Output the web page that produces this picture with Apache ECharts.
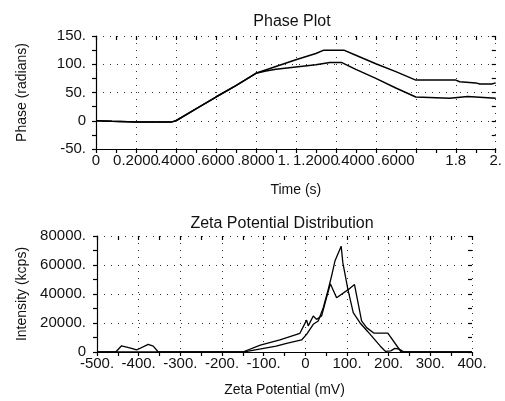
<!DOCTYPE html>
<html>
<head>
<meta charset="utf-8">
<script src="https://cdn.jsdelivr.net/npm/echarts@6/dist/echarts.min.js"></script>
<style>
html,body{margin:0;padding:0;background:#fff;}
#chart{width:505px;height:401px;}
</style>
</head>
<body>
<div id="chart"></div>
<script>
// ---- Phase plot data ----
var phaseTimeA = [0, 0.08, 0.2, 0.38, 0.4, 0.5, 0.6, 0.7, 0.8, 0.9, 1.0, 1.1, 1.14, 1.24, 1.3, 1.4, 1.5, 1.6, 1.8, 1.82, 1.9, 1.92, 1.98, 2.0];
var phaseA     = [0, -1, -2, -2, 0, 21, 42, 62, 84, 96, 108, 119, 125, 125, 116, 101, 87, 72, 72, 69, 67, 65, 65, 67];
var phaseTimeB = [0, 0.08, 0.2, 0.38, 0.4, 0.5, 0.6, 0.7, 0.8, 0.85, 0.9, 1.0, 1.1, 1.17, 1.23, 1.3, 1.4, 1.5, 1.6, 1.61, 1.77, 1.78, 1.86, 1.87, 2.0];
var phaseB     = [0, -1, -2, -2, 0, 21, 42, 62, 84, 88, 91, 95, 99, 103, 103, 91, 75, 58, 42, 40, 40, 43, 43, 40, 40];

// ---- Zeta potential data ----
var zetaMvA     = [-500, -150, -140, -100, -70, -45, -9, 3, 19, 31, 43, 55, 63, 71, 86, 90, 102, 115, 131, 150, 165, 180, 192, 205, 215, 225, 235, 245, 400];
var intensityA  = [0, 0, 500, 2500, 4000, 6000, 8300, 12200, 19100, 21400, 30600, 43200, 52400, 62700, 73000, 61600, 43400, 27100, 20200, 14000, 9000, 4000, 500, 800, 2500, 2000, 300, 0, 0];
var zetaMvB     = [-500, -455, -441, -417, -405, -377, -365, -353, -150, -108, -61, -13, 3, 7, 19, 27, 39, 50, 60, 75, 107, 118, 135, 147, 165, 198, 230, 400];
var intensityB  = [0, 0, 4300, 2500, 1400, 5300, 4100, 0, 0, 4800, 8300, 12900, 22000, 18000, 24800, 22500, 24800, 36500, 47000, 37400, 43900, 46500, 21400, 16800, 13000, 13000, 0, 0];

// ---- Tick labels (as printed in the chart) ----
var timeTicks   = [0, 0.2, 0.4, 0.6, 0.8, 1.0, 1.2, 1.4, 1.6, 1.8, 2.0];
var timeLabels  = ['0', '0.2000', '.4000', '.6000', '.8000', '1.', '1.2000', '.4000', '.6000', '1.8', '2.'];
var phaseTicks  = [-50, 0, 50, 100, 150];
var phaseLabels = ['-50.', '0', '50.', '100.', '150.'];
var zetaTicks   = [-500, -400, -300, -200, -100, 0, 100, 200, 300, 400];
var zetaLabels  = ['-500.', '-400.', '-300.', '-200.', '-100.', '0', '100.', '200.', '300.', '400.'];
var intTicks    = [0, 20000, 40000, 60000, 80000];
var intLabels   = ['0', '20000.', '40000.', '60000.', '80000.'];

function pair(xs, ys) { return xs.map(function (x, i) { return [x, ys[i]]; }); }
function findIdx(ticks, v) {
  for (var i = 0; i < ticks.length; i++) { if (Math.abs(ticks[i] - v) < 1e-6) return i; }
  return -1;
}
function lookup(ticks, labels) {
  return function (v) { var i = findIdx(ticks, v); return i < 0 ? '' : labels[i]; };
}

var FONT = 'Liberation Sans, Arial, sans-serif';
var TXT = '#111';
var LBL = 15;
var dotted = { show: true, lineStyle: { color: '#333', width: 1, type: [1, 6] } };

// styling: leftward nudge (rich-text right padding) of some time labels, as drawn in the original
var timeLabelNudge = { 5: 'n24', 6: 'n40', 7: 'n40', 8: 'n40' };
var richLbl = {
  n0:  { fontFamily: FONT, fontSize: LBL, color: TXT },
  n24: { fontFamily: FONT, fontSize: LBL, color: TXT, padding: [0, 24, 0, 0] },
  n40: { fontFamily: FONT, fontSize: LBL, color: TXT, padding: [0, 40, 0, 0] }
};

function mainAxis(gridIndex, min, max, interval, formatter, name, nameGap, margin) {
  return {
    type: 'value', gridIndex: gridIndex, min: min, max: max, interval: interval,
    name: name, nameLocation: 'middle', nameGap: nameGap,
    nameTextStyle: { fontFamily: FONT, fontSize: 14, color: TXT },
    axisLine: { show: true, onZero: false, lineStyle: { color: '#000', width: 1.2 } },
    axisTick: { show: true, length: 4, lineStyle: { color: '#000', width: 1.2 } },
    minorTick: { show: true, splitNumber: 2, length: 4, lineStyle: { color: '#000', width: 1.2 } },
    axisLabel: { show: true, interval: 0, hideOverlap: false, margin: margin, formatter: formatter,
                 fontFamily: FONT, fontSize: LBL, color: TXT, rich: richLbl },
    splitLine: dotted
  };
}
function innerAxis(gridIndex, min, max, interval) {
  return {
    type: 'value', gridIndex: gridIndex, min: min, max: max, interval: interval,
    axisLine: { show: false, onZero: false },
    axisTick: { show: true, inside: true, length: 4, lineStyle: { color: '#000', width: 1.2 } },
    minorTick: { show: true, splitNumber: 2, length: 4, lineStyle: { color: '#000', width: 1.2 } },
    axisLabel: { show: false },
    splitLine: { show: false }
  };
}

var timeFormatter = function (v) {
  var i = findIdx(timeTicks, v);
  if (i < 0) return '';
  var st = timeLabelNudge[i] || 'n0';
  return '{' + st + '|' + timeLabels[i] + '}';
};

var chart = echarts.init(document.getElementById('chart'), null, { renderer: 'canvas' });
chart.setOption({
  backgroundColor: '#fff',
  animation: false,
  title: [
    { text: 'Phase Plot', left: 287, top: 9, textAlign: 'center',
      textStyle: { fontFamily: FONT, fontSize: 16, fontWeight: 'normal', color: TXT } },
    { text: 'Zeta Potential Distribution', left: 277, top: 211, textAlign: 'center',
      textStyle: { fontFamily: FONT, fontSize: 16, fontWeight: 'normal', color: TXT } }
  ],
  grid: [
    { left: 96, top: 36, width: 403, height: 113 },
    { left: 97, top: 236, width: 375, height: 116 }
  ],
  xAxis: [
    mainAxis(0, 0, 2, 0.2, timeFormatter, 'Time (s)', 34, 4),
    mainAxis(1, -500, 400, 100, lookup(zetaTicks, zetaLabels), 'Zeta Potential (mV)', 31, 4),
    innerAxis(0, 0, 2, 0.2),
    innerAxis(1, -500, 400, 100)
  ],
  yAxis: [
    mainAxis(0, -50, 150, 50, lookup(phaseTicks, phaseLabels), 'Phase (radians)', 67, 10),
    mainAxis(1, 0, 80000, 20000, lookup(intTicks, intLabels), 'Intensity (kcps)', 68, 11),
    innerAxis(0, -50, 150, 50),
    innerAxis(1, 0, 80000, 20000)
  ],
  series: [
    { type: 'line', xAxisIndex: 0, yAxisIndex: 0, data: pair(phaseTimeA, phaseA), showSymbol: false,
      lineStyle: { color: '#000', width: 1.5 } },
    { type: 'line', xAxisIndex: 0, yAxisIndex: 0, data: pair(phaseTimeB, phaseB), showSymbol: false,
      lineStyle: { color: '#000', width: 1.5 } },
    { type: 'line', xAxisIndex: 1, yAxisIndex: 1, data: pair(zetaMvA, intensityA), showSymbol: false,
      lineStyle: { color: '#000', width: 1.3 } },
    { type: 'line', xAxisIndex: 1, yAxisIndex: 1, data: pair(zetaMvB, intensityB), showSymbol: false,
      lineStyle: { color: '#000', width: 1.3 } }
  ]
});
</script>
</body>
</html>
